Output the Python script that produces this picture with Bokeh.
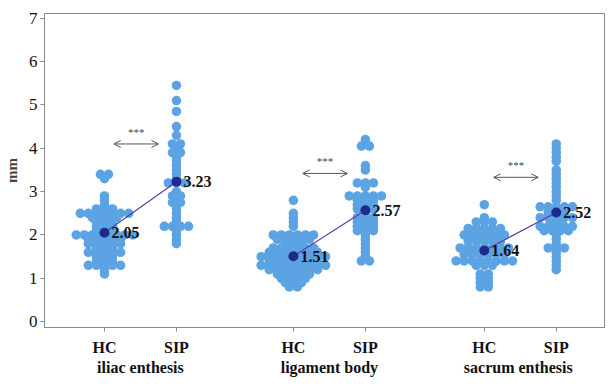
from collections import Counter
from bokeh.plotting import figure
from bokeh.models import (FixedTicker, LinearAxis, Range1d, Arrow, OpenHead,
                          ColumnDataSource)
from bokeh.core.properties import value
from bokeh.embed import file_html
from bokeh.resources import INLINE

# ---------------- data ----------------
regions = ["iliac enthesis", "ligament body", "sacrum  enthesis"]
group_names = ["HC", "SIP"]

iliac_hc = [3.4, 3.4, 3.3, 2.9, 2.8, 2.7, 2.6, 2.6, 2.6,
            2.5, 2.5, 2.5, 2.5, 2.5, 2.5, 2.5, 2.4, 2.4, 2.4, 2.4,
            2.3, 2.3, 2.3, 2.2, 2.2, 2.2, 2.1, 2.1, 2.1,
            2.0, 2.0, 2.0, 2.0, 2.0, 2.0, 2.0, 2.0, 1.9, 1.9, 1.9, 1.9, 1.9,
            1.8, 1.8, 1.8, 1.8, 1.8, 1.7, 1.7, 1.7,
            1.6, 1.6, 1.6, 1.6, 1.6, 1.5, 1.5, 1.5, 1.4, 1.4, 1.4,
            1.3, 1.3, 1.3, 1.3, 1.3, 1.2, 1.1]
iliac_sip = [5.45, 5.1, 4.85, 4.5, 4.3, 4.1, 4.1, 4.0, 3.9, 3.9, 3.8, 3.7,
             3.6, 3.5, 3.4, 3.3, 3.2, 3.2, 3.2, 3.0, 2.9, 2.9, 2.85,
             2.75, 2.75, 2.6, 2.5, 2.4, 2.3, 2.2, 2.2, 2.2, 2.2, 2.1,
             2.0, 1.9, 1.8]
ligament_hc = [2.8, 2.5, 2.4, 2.3, 2.2,
               2.0, 2.0, 2.0, 2.0, 2.0, 2.0, 1.9, 1.9, 1.9, 1.9, 1.9,
               1.8, 1.8, 1.8, 1.7, 1.7, 1.7, 1.7, 1.7, 1.7,
               1.6, 1.6, 1.6, 1.6, 1.6, 1.6, 1.6,
               1.5, 1.5, 1.5, 1.5, 1.5, 1.5, 1.5, 1.5, 1.5,
               1.4, 1.4, 1.4, 1.4, 1.4, 1.4, 1.4,
               1.3, 1.3, 1.3, 1.3, 1.3, 1.3, 1.3, 1.3, 1.3,
               1.2, 1.2, 1.2, 1.2, 1.2, 1.2, 1.2,
               1.1, 1.1, 1.1, 1.1, 1.1, 1.0, 1.0, 1.0, 1.0,
               0.9, 0.9, 0.9, 0.8, 0.8]
ligament_sip = [4.2, 4.05, 4.05, 3.6, 3.5, 3.2, 3.2, 3.2, 3.1,
                2.9, 2.9, 2.9, 2.9, 2.9, 2.8, 2.8, 2.8, 2.7, 2.7, 2.7,
                2.6, 2.6, 2.6, 2.5, 2.4, 2.4, 2.4, 2.3, 2.3, 2.3,
                2.2, 2.2, 2.2, 2.1, 2.1, 2.1, 2.0, 1.9, 1.8, 1.7,
                1.6, 1.5, 1.4, 1.4]
sacrum_hc = [2.7, 2.4, 2.3, 2.3, 2.3, 2.15, 2.15, 2.15, 2.15, 2.15,
             2.0, 2.0, 2.0, 2.0, 2.0, 2.0, 1.85, 1.85, 1.85, 1.85, 1.85,
             1.7, 1.7, 1.7, 1.7, 1.7, 1.7, 1.7,
             1.55, 1.55, 1.55, 1.55, 1.55, 1.55,
             1.4, 1.4, 1.4, 1.4, 1.4, 1.4, 1.4, 1.4,
             1.3, 1.3, 1.3, 1.1, 1.1, 1.0, 1.0, 0.9, 0.9, 0.8, 0.8]
sacrum_sip = [4.1, 4.0, 3.9, 3.8, 3.7, 3.5, 3.4, 3.3, 3.2, 3.1, 3.0, 2.9, 2.8,
              2.65, 2.65, 2.65, 2.65, 2.65, 2.52, 2.52, 2.52,
              2.4, 2.4, 2.4, 2.4, 2.4, 2.3, 2.3,
              2.2, 2.2, 2.2, 2.2, 2.2, 2.1, 2.1, 2.1, 2.1,
              2.0, 1.9, 1.8, 1.7, 1.7, 1.7, 1.6, 1.5, 1.4, 1.3, 1.2]

series = [[iliac_hc, iliac_sip], [ligament_hc, ligament_sip], [sacrum_hc, sacrum_sip]]
mean_hc = [2.05, 1.51, 1.64]
mean_sip = [3.23, 2.57, 2.52]
sig_y = [4.1, 3.42, 3.33]
sig_text = ["***", "***", "***"]

# ---------------- layout ----------------
group_center = [1.333, 3.958, 6.61]
half_gap = 0.5
dot_dx = 0.112

BLUE = "#5BA3E2"
NAVY = "#1E2A8C"
SERIF = "Liberation Serif"

p = figure(width=605, height=378, output_backend="svg", toolbar_location=None,
           x_range=Range1d(0, 7.78), y_range=Range1d(-0.135, 7.11),
           min_border_left=44, min_border_right=1, min_border_top=13,
           min_border_bottom=0)
p.xgrid.visible = False
p.ygrid.visible = False
p.outline_line_color = "#8a8a8a"
p.background_fill_color = "white"
p.border_fill_color = "white"

xs, ys = [], []
for g, pair in enumerate(series):
    for k, vals in enumerate(pair):
        cx = group_center[g] + (k * 2 - 1) * half_gap
        cnt = Counter(vals)
        for v, n in cnt.items():
            for i in range(n):
                xs.append(cx + (i - (n - 1) / 2) * dot_dx)
                ys.append(v)
p.scatter(xs, ys, size=9.5, color=BLUE, line_color=None)

hc_x = [c - half_gap for c in group_center]
sip_x = [c + half_gap for c in group_center]
for g in range(3):
    p.line([hc_x[g], sip_x[g]], [mean_hc[g], mean_sip[g]], line_color="#5B3FA3", line_width=1.2)

mx = hc_x + sip_x
my = mean_hc + mean_sip
msrc = ColumnDataSource(dict(x=mx, y=my, t=["%.2f" % v for v in my]))
p.scatter("x", "y", source=msrc, size=10, color=NAVY, line_color=None)
p.text("x", "y", text="t", source=msrc, x_offset=7, text_baseline="middle",
       text_font=value(SERIF), text_font_style="bold", text_font_size="16px",
       text_color="#111111")

arrow_start = [hc_x[g] + 0.13 for g in range(3)]
arrow_end = [sip_x[g] - 0.25 for g in range(3)]
for g in range(3):
    p.add_layout(Arrow(x_start=arrow_start[g], y_start=sig_y[g], x_end=arrow_end[g], y_end=sig_y[g],
                       start=OpenHead(size=7, line_color="#555555", line_width=1),
                       end=OpenHead(size=7, line_color="#555555", line_width=1),
                       line_color="#555555", line_width=1))
ssrc = ColumnDataSource(dict(x=[(a + b) / 2 for a, b in zip(arrow_start, arrow_end)],
                             y=sig_y, t=sig_text))
p.text("x", "y", text="t", source=ssrc, y_offset=-6, text_align="center",
       text_baseline="bottom", text_font=value(SERIF), text_font_size="11px",
       text_color="#444444")

# axes
p.yaxis.ticker = FixedTicker(ticks=list(range(8)))
p.yaxis.minor_tick_line_color = None
p.yaxis.axis_label = "mm"
p.yaxis.axis_label_text_font = SERIF
p.yaxis.axis_label_text_font_style = "bold"
p.yaxis.axis_label_text_font_size = "15px"
p.yaxis.axis_label_standoff = 6
p.yaxis.major_label_text_font = SERIF
p.yaxis.major_label_text_font_size = "17px"
p.yaxis.major_label_standoff = 3
p.yaxis.major_tick_in = 0
p.yaxis.major_tick_out = 4

ax = p.xaxis[0]
ax.ticker = FixedTicker(ticks=hc_x + sip_x)
ax.major_label_overrides = {x: group_names[0] for x in hc_x}
ax.major_label_overrides.update({x: group_names[1] for x in sip_x})
ax.minor_tick_line_color = None
ax.major_tick_in = 0
ax.major_tick_out = 4
ax.major_label_standoff = 7
ax.major_label_text_font = SERIF
ax.major_label_text_font_style = "bold"
ax.major_label_text_font_size = "16px"

for a in (p.xaxis[0], p.yaxis[0]):
    a.axis_line_color = "#8a8a8a"
    a.major_tick_line_color = "#8a8a8a"
    a.major_label_text_color = "#111111"

ax2 = LinearAxis(ticker=FixedTicker(ticks=group_center),
                 major_label_overrides={c: r for c, r in zip(group_center, regions)})
ax2.axis_line_color = None
ax2.major_tick_line_color = None
ax2.minor_tick_line_color = None
ax2.major_tick_out = 0
ax2.major_label_standoff = 0
ax2.major_label_text_font = SERIF
ax2.major_label_text_font_style = "bold"
ax2.major_label_text_font_size = "16px"
ax2.major_label_text_color = "#111111"
p.add_layout(ax2, "below")

open("out.html", "w").write(file_html(p, INLINE))
